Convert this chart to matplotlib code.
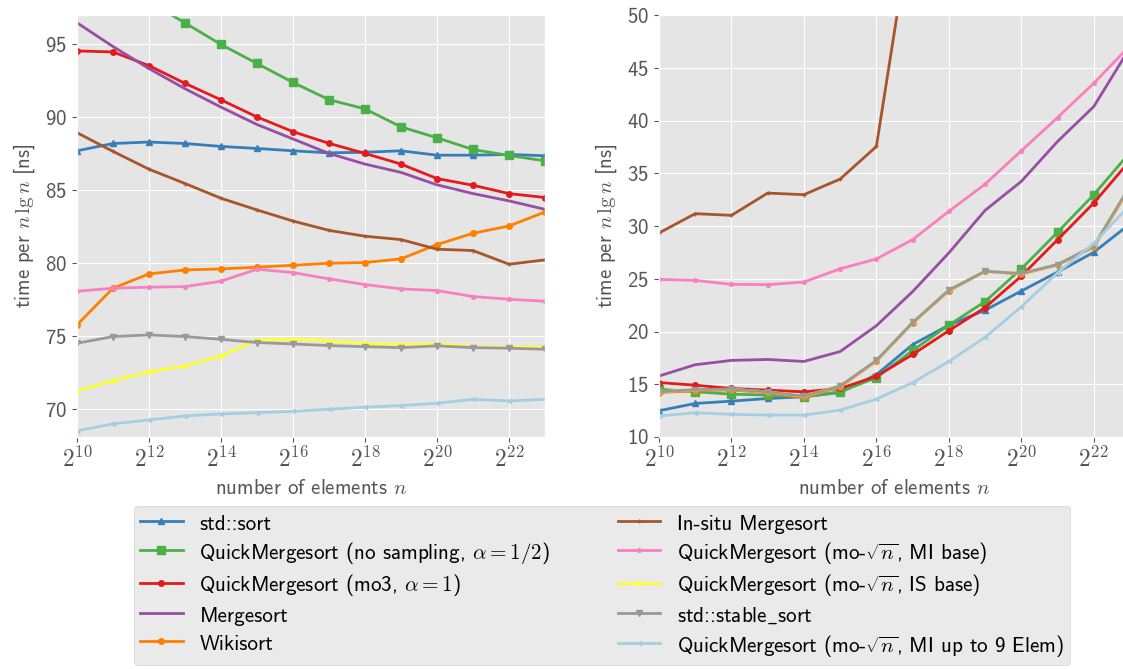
import numpy as np
import matplotlib
matplotlib.use('Agg')
import matplotlib.pyplot as plt
from matplotlib.ticker import FixedLocator, NullLocator

plt.style.use('ggplot')
plt.rcParams['font.family'] = ['cmss10', 'DejaVu Sans']
plt.rcParams['mathtext.fontset'] = 'cm'
plt.rcParams['axes.unicode_minus'] = False
plt.rcParams['axes.formatter.use_mathtext'] = True

# Problemgrößen n = 2^10 ... 2^23
exponents = list(range(10, 24))

labels = [
    'std::sort',
    r'QuickMergesort (no sampling, $\alpha = 1/2$)',
    r'QuickMergesort (mo3, $\alpha = 1$)',
    'Mergesort',
    'Wikisort',
    'In-situ Mergesort',
    r'QuickMergesort (mo-$\sqrt{n}$, MI base)',
    r'QuickMergesort (mo-$\sqrt{n}$, IS base)',
    r'std::stable$\_$sort',
    r'QuickMergesort (mo-$\sqrt{n}$, MI up to 9 Elem)',
]
colors = ['#377eb8', '#4daf4a', '#e41a1c', '#984ea3', '#ff7f00',
          '#a65628', '#f781bf', '#ffff33', '#999999', '#a6cee3']
markers = ['^', 's', 'o', '', 'o', '+', 'p', 'P', 'v', '<']
msizes = [4, 5.5, 4, 0, 4, 3, 3, 3, 4, 3]

# linkes Diagramm
left_std_sort = [87.7, 88.2, 88.3, 88.2, 88.0, 87.86, 87.7, 87.56, 87.6, 87.7, 87.4, 87.4, 87.45, 87.36]
left_qms_nosampling = [101.0, 99.5, 97.9, 96.46, 94.98, 93.68, 92.38, 91.2, 90.57, 89.34, 88.59, 87.79, 87.38, 87.01]
left_qms_mo3 = [94.54, 94.47, 93.53, 92.32, 91.19, 90.02, 89.01, 88.21, 87.52, 86.79, 85.8, 85.34, 84.77, 84.5]
left_mergesort = [96.47, 94.84, 93.33, 91.95, 90.69, 89.5, 88.51, 87.52, 86.79, 86.22, 85.37, 84.77, 84.27, 83.69]
left_wikisort = [75.78, 78.29, 79.27, 79.54, 79.61, 79.73, 79.86, 80.0, 80.05, 80.3, 81.28, 82.05, 82.55, 83.51]
left_insitu = [88.94, 87.66, 86.44, 85.46, 84.45, 83.65, 82.89, 82.25, 81.85, 81.62, 80.96, 80.87, 79.93, 80.23]
left_mi_base = [78.08, 78.29, 78.36, 78.4, 78.77, 79.59, 79.36, 78.93, 78.54, 78.24, 78.13, 77.72, 77.53, 77.4]
left_is_base = [71.26, 71.96, 72.56, 72.97, 73.65, 74.75, 74.79, 74.68, 74.52, 74.41, 74.47, 74.29, 74.25, 74.25]
left_stable_sort = [74.52, 74.98, 75.09, 74.98, 74.79, 74.57, 74.47, 74.36, 74.29, 74.22, 74.34, 74.22, 74.18, 74.11]
left_mi_9 = [68.52, 69.0, 69.27, 69.54, 69.68, 69.77, 69.86, 70.0, 70.14, 70.25, 70.41, 70.68, 70.57, 70.68]

# rechtes Diagramm
right_std_sort = [12.49, 13.18, 13.4, 13.65, 13.81, 14.22, 15.91, 18.76, 20.61, 22.02, 23.84, 25.63, 27.51, 30.2]
right_qms_nosampling = [14.53, 14.28, 14.06, 13.97, 13.81, 14.28, 15.63, 18.2, 20.61, 22.84, 25.94, 29.41, 32.97, 36.97]
right_qms_mo3 = [15.16, 14.91, 14.6, 14.44, 14.28, 14.6, 15.75, 17.82, 20.08, 22.27, 25.25, 28.7, 32.18, 36.2]
right_mergesort = [15.78, 16.85, 17.26, 17.35, 17.16, 18.1, 20.55, 23.78, 27.45, 31.48, 34.23, 38.01, 41.32, 46.9]
right_wikisort = [14.2, 14.4, 14.45, 14.2, 13.75, 14.75, 17.2, 20.8, 23.85, 25.7, 25.45, 26.3, 28.0, 33.7]
right_insitu = [29.34, 31.17, 31.01, 33.12, 32.97, 34.45, 37.54, 59.4, 75.0, 85.0, 90.0, 92.0, 93.0, 94.0]
right_mi_base = [24.94, 24.84, 24.47, 24.44, 24.69, 25.94, 26.88, 28.71, 31.39, 33.97, 37.13, 40.28, 43.53, 47.1]
right_is_base = [14.28, 14.5, 14.53, 14.28, 13.87, 14.84, 17.26, 20.86, 23.93, 25.72, 25.5, 26.35, 28.13, 33.8]
right_stable_sort = [14.28, 14.5, 14.53, 14.28, 13.87, 14.84, 17.26, 20.86, 23.93, 25.72, 25.5, 26.35, 28.13, 33.8]
right_mi_9 = [11.99, 12.3, 12.15, 12.08, 12.08, 12.55, 13.59, 15.16, 17.16, 19.45, 22.34, 25.56, 28.36, 32.0]

left_series = [left_std_sort, left_qms_nosampling, left_qms_mo3, left_mergesort, left_wikisort,
               left_insitu, left_mi_base, left_is_base, left_stable_sort, left_mi_9]
right_series = [right_std_sort, right_qms_nosampling, right_qms_mo3, right_mergesort, right_wikisort,
                right_insitu, right_mi_base, right_is_base, right_stable_sort, right_mi_9]

xticks = [10, 12, 14, 16, 18, 20, 22]

fig = plt.figure(figsize=(11.23, 6.69), dpi=100)
ax1 = fig.add_axes([77 / 1123, 232 / 669, 468 / 1123, 422 / 669])
ax2 = fig.add_axes([659 / 1123, 232 / 669, 471 / 1123, 422 / 669])

n = [2.0 ** e for e in exponents]
for ax, series in [(ax1, left_series), (ax2, right_series)]:
    for vals, lab, c, m, ms in zip(series, labels, colors, markers, msizes):
        ax.plot(n, vals, color=c, marker=m, markersize=ms, lw=2, label=lab)
    ax.set_xscale('log', base=2)
    ax.set_xlim(2.0 ** 10, 2.0 ** 23)
    ax.xaxis.set_major_locator(FixedLocator([2.0 ** e for e in xticks]))
    ax.set_xticklabels([r'$2^{%d}$' % e for e in xticks], fontsize=17)
    ax.xaxis.set_minor_locator(NullLocator())
    ax.tick_params(axis='y', labelsize=15)
    ax.set_xlabel(r'number of elements $n$', fontsize=15, color='#555555', labelpad=5)
    ax.set_ylabel(r'time per $n\,\lg n$ [ns]', fontsize=15, color='#555555', labelpad=6)

ax1.set_ylim(68.1, 97)
ax1.set_yticks([70, 75, 80, 85, 90, 95])
ax2.set_ylim(10, 50)
ax2.set_yticks([10, 15, 20, 25, 30, 35, 40, 45, 50])

handles, labs = ax1.get_legend_handles_labels()
fig.legend(handles, labs, loc='upper left', bbox_to_anchor=(134 / 1123, 1 - 506 / 669),
           borderaxespad=0, ncol=2, fontsize=15.2, columnspacing=3.2, labelspacing=0.3,
           handlelength=2.0, handleheight=1.12, borderpad=0.3)

fig.savefig('out.png', dpi=100)
